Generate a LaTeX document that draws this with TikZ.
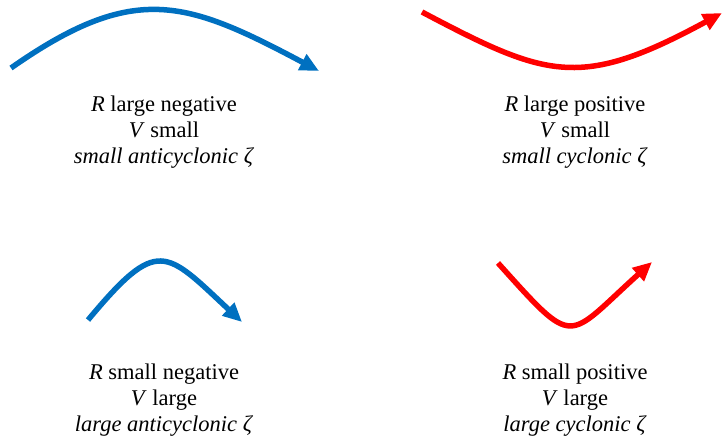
\documentclass[tikz,border=0pt]{standalone}
\usepackage{fontspec}
\setmainfont{Liberation Serif}
\usetikzlibrary{arrows.meta}
\definecolor{cblue}{HTML}{0070C0}
\definecolor{cred}{HTML}{FF0000}
\begin{document}
\begin{tikzpicture}[x=1pt,y=-1pt,
  flow/.style={line width=5.5pt,-{Triangle[length=19pt,width=17pt]}},
  label/.style={align=center,font=\fontsize{22.5}{26}\selectfont,inner sep=0pt}]
\useasboundingbox (0,0) rectangle (722,440);
% coordinates
\coordinate (a1) at (11,68);   \coordinate (a2) at (319,71);
\coordinate (b1) at (422,12);  \coordinate (b2) at (722,13);
\coordinate (c1) at (88,320);  \coordinate (c2) at (242,322);
\coordinate (d1) at (498,263); \coordinate (d2) at (652,262);
% arrows
\draw[flow,cblue] (a1) to[out=35,in=152,looseness=1.25] (a2);
\draw[flow,cred]  (b1) .. controls (547,78) and (580,90) .. (b2);
\draw[flow,cblue] (c1) .. controls (158,236) and (165,250) .. (c2);
\draw[flow,cred]  (d1) to[out=-48,in=222,looseness=1.94] (d2);
% labels
\node[label] (ta) at (164,132) {\textit{R} large negative\\\textit{V} small\\\textit{small anticyclonic ζ}};
\node[label] (tb) at (575,132) {\textit{R} large positive\\\textit{V} small\\\textit{small cyclonic ζ}};
\node[label] (tc) at (164,400) {\textit{R} small negative\\\textit{V} large\\\textit{large anticyclonic ζ}};
\node[label] (td) at (575,400) {\textit{R} small positive\\\textit{V} large\\\textit{large cyclonic ζ}};
\end{tikzpicture}
\end{document}
